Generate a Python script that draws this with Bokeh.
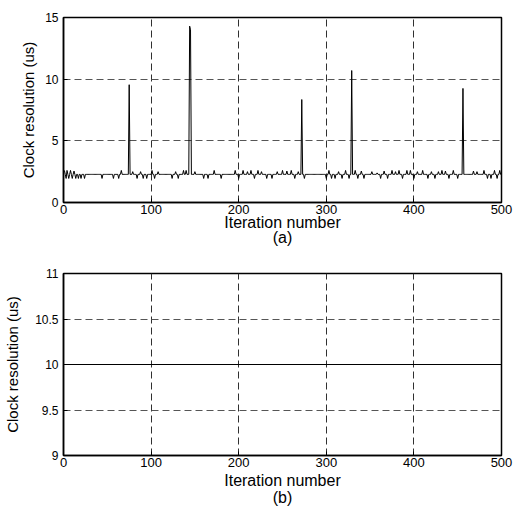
from bokeh.plotting import figure
from bokeh.layouts import column
from bokeh.models import FixedTicker, CustomJSTickFormatter, Range1d
from bokeh.embed import file_html
from bokeh.resources import INLINE

# ---------------- data ----------------
iterations = list(range(1, 501))

# panel (a): baseline clock resolution with small jitter and a few spikes
baseline_us = 2.28
jitter_iters = [1, 3, 4, 6, 8, 10, 12, 14, 17, 20, 24, 44, 57, 63, 66, 79, 84, 88, 91,
                95, 101, 104, 108, 124, 128, 131, 137, 140, 150, 160, 165, 172, 180,
                196, 200, 205, 210, 214, 218, 222, 226, 232, 238, 244, 250, 255, 260,
                264, 268, 275, 300, 303, 306, 310, 314, 318, 322, 326, 333, 336, 340,
                343, 352, 358, 362, 366, 370, 375, 379, 383, 387, 392, 396, 400, 404,
                410, 416, 420, 424, 428, 432, 436, 440, 445, 450, 468, 472, 480, 484,
                488, 492, 495, 498]
jitter_values = [2.6, 1.95, 2.6, 1.95, 2.6, 1.95, 2.55, 1.95, 1.95, 1.95, 1.95, 1.95, 1.95,
                 1.95, 2.6, 2.5, 1.95, 2.5, 1.95, 1.95, 2.6, 1.95, 2.5, 1.95, 2.5, 1.95,
                 2.6, 2.6, 2.5, 1.95, 1.95, 2.6, 1.95, 2.6, 1.95, 2.6, 2.5, 2.6, 1.95,
                 2.6, 2.5, 1.95, 1.95, 2.5, 2.6, 2.55, 2.6, 1.95, 2.5, 1.95, 1.95, 2.6,
                 1.95, 1.95, 2.5, 1.95, 2.6, 1.95, 2.6, 1.95, 2.55, 1.95, 2.5, 2.4, 1.95,
                 2.55, 1.95, 2.6, 2.5, 2.6, 1.95, 2.6, 2.6, 1.95, 2.5, 2.6, 1.95, 2.5,
                 1.95, 2.5, 2.6, 2.55, 1.95, 2.6, 1.95, 2.55, 2.5, 2.6, 1.95, 1.95, 2.6,
                 1.95, 2.6]
spike_iters = [75, 144, 145, 272, 329, 456]
spike_values = [9.55, 14.3, 14.0, 8.35, 10.7, 9.25]

values_a = [baseline_us] * len(iterations)
for i, v in zip(jitter_iters, jitter_values):
    values_a[i - 1] = v
for i, v in zip(spike_iters, spike_values):
    values_a[i - 1] = v

# panel (b): constant clock resolution
values_b = [10.0] * len(iterations)

x_ticks = [0, 100, 200, 300, 400, 500]
y_ticks_a = [0, 5, 10, 15]
y_ticks_b = [9, 9.5, 10, 10.5, 11]

FONT = "Liberation Sans"


def style(p, yticks, xlabel_standoff, ylabel_standoff, line_height):
    p.outline_line_color = "black"
    p.outline_line_width = 1.5
    p.background_fill_color = "white"
    p.border_fill_color = "white"
    p.xaxis.ticker = FixedTicker(ticks=x_ticks)
    p.yaxis.ticker = FixedTicker(ticks=yticks)
    for ax in (p.xaxis, p.yaxis):
        ax.formatter = CustomJSTickFormatter(code="return String(tick)")
        ax.axis_line_color = "black"
        ax.axis_line_width = 1.5
        ax.major_tick_in = 4
        ax.major_tick_out = 0
        ax.major_tick_line_color = "black"
        ax.minor_tick_line_color = None
        ax.major_label_text_font = FONT
        ax.major_label_text_color = "black"
        ax.axis_label_text_font = FONT
        ax.axis_label_text_font_style = "normal"
        ax.axis_label_text_color = "black"
        ax.axis_label_text_line_height = line_height
    p.xaxis.major_label_text_font_size = "13px"
    p.yaxis.major_label_text_font_size = "12px"
    p.xaxis.axis_label_text_font_size = "16px"
    p.yaxis.axis_label_text_font_size = "15px"
    p.xaxis.major_label_standoff = 2
    p.yaxis.major_label_standoff = 5
    p.xaxis.axis_label_standoff = xlabel_standoff
    p.yaxis.axis_label_standoff = ylabel_standoff
    for g in (p.xgrid, p.ygrid):
        g.grid_line_dash = "7 4"
        g.grid_line_width = 1
    p.xgrid.grid_line_color = "#303030"
    p.ygrid.grid_line_color = "#555555"
    p.xgrid.ticker = FixedTicker(ticks=x_ticks)
    p.ygrid.ticker = FixedTicker(ticks=yticks)


p1 = figure(width=514, height=264, output_backend="svg", toolbar_location=None,
            x_range=Range1d(0, 500), y_range=Range1d(0, 15),
            x_axis_label="Iteration number\n(a)", y_axis_label="Clock resolution (us)",
            min_border_left=63, min_border_right=13, min_border_top=17, min_border_bottom=62)
style(p1, y_ticks_a, -3, 5, 0.9)
p1.line(iterations, values_a, line_color="black", line_width=1)

p2 = figure(width=514, height=244, output_backend="svg", toolbar_location=None,
            x_range=Range1d(0, 500), y_range=Range1d(9, 11),
            x_axis_label="Iteration number\n(b)", y_axis_label="Clock resolution (us)",
            min_border_left=63, min_border_right=13, min_border_top=9, min_border_bottom=51)
style(p2, y_ticks_b, 2, 11, 1.0)
p2.line(iterations, values_b, line_color="black", line_width=1.2)

layout = column(p1, p2)

open("out.html", "w").write(file_html(layout, INLINE))
